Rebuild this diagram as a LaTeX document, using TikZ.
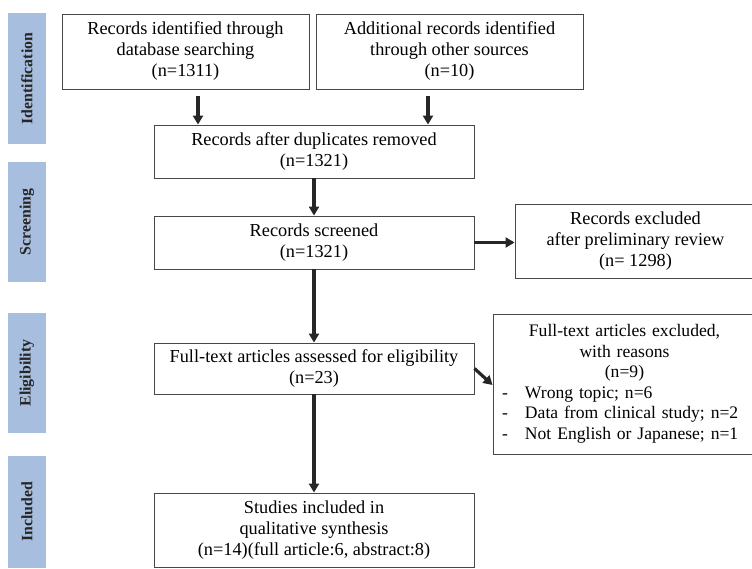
\documentclass[tikz,border=0pt]{standalone}
\usepackage{fontspec}
\setmainfont{Liberation Serif}
\usetikzlibrary{arrows.meta,positioning,calc}
\definecolor{phasebg}{RGB}{168,190,222}
\tikzset{
    box/.style = {draw=black!72, line width=0.9pt, rectangle, align=center,
        inner sep=0pt, font=\fontsize{18.3}{21}\selectfont},
    phase/.style = {fill=phasebg, draw=none, inner sep=0pt,
        minimum height=38, rotate=90, text=black!85,
        font=\fontsize{15.8}{18}\selectfont\bfseries},
    arr/.style = {-{Triangle[length=9pt,width=10pt]}, line width=3.2pt, draw=black!85},
}
\newcommand{\reason}[1]{\makebox[\linewidth][l]{\hspace{9pt}\makebox[23pt][l]{-}#1}}

\begin{document}
\begin{tikzpicture}[x=1pt,y=-1pt]
    \useasboundingbox (0,0) rectangle (752,568);

    % phase bars on the left
    \node [phase, minimum width=131] (ident) at (27,78.5) {Identification};
    \node [phase, minimum width=120] (screen) at (27,222) {Screening};
    \node [phase, minimum width=120] (elig) at (27,373) {Eligibility};
    \node [phase, minimum width=112] (incl) at (27,512) {Included};

    % boxes
    \node [box, minimum width=247, minimum height=75] (dbrec) at (185.5,51.5)
        {Records identified through\\database searching\\(n=1311)};
    \node [box, minimum width=267, minimum height=75] (otherrec) at (449.5,51.5)
        {Additional records identified\\through other sources\\(n=10)};
    \node [box, minimum width=320, minimum height=53] (dupl) at (314,151.5)
        {Records after duplicates removed\\(n=1321)};
    \node [box, minimum width=320, minimum height=53] (screened) at (314,242.5)
        {Records screened\\(n=1321)};
    \node [box, minimum width=241, minimum height=74] (excl) at (635.5,241)
        {Records excluded\\after preliminary review\\(n= 1298)};
    \node [box, minimum width=320, minimum height=51] (fulltext) at (314,368.5)
        {Full-text articles assessed for eligibility\\(n=23)};
    \node [box, minimum width=263, minimum height=140, text width=263,
        font=\fontsize{17.6}{20.5}\selectfont] (ftexcl) at (624.5,384)
        {Full-text articles excluded,\\with reasons\\(n=9)\\
         \reason{Wrong topic; n=6}\\
         \reason{Data from clinical study; n=2}\\
         \reason{Not English or Japanese; n=1}};
    \node [box, minimum width=320, minimum height=74] (included) at (314,530)
        {Studies included in\\qualitative synthesis\\(n=14)(full article:6, abstract:8)};

    %% connecting lines
    \draw [arr, shorten <=7pt] ([xshift=12.5pt]dbrec.south) -- ([xshift=12.5pt]dbrec.south |- dupl.north);
    \draw [arr, shorten <=7pt] ([xshift=-21.5pt]otherrec.south) -- ([xshift=-21.5pt]otherrec.south |- dupl.north);
    \draw [arr] (dupl) -- (screened);
    \draw [arr] (screened.east) -- (screened.east -| excl.west);
    \draw [arr] (screened) -- (fulltext);
    \draw [arr] (fulltext.east) -- ([yshift=-1pt]ftexcl.west);
    \draw [arr] (fulltext) -- (included);

\end{tikzpicture}
\end{document}
